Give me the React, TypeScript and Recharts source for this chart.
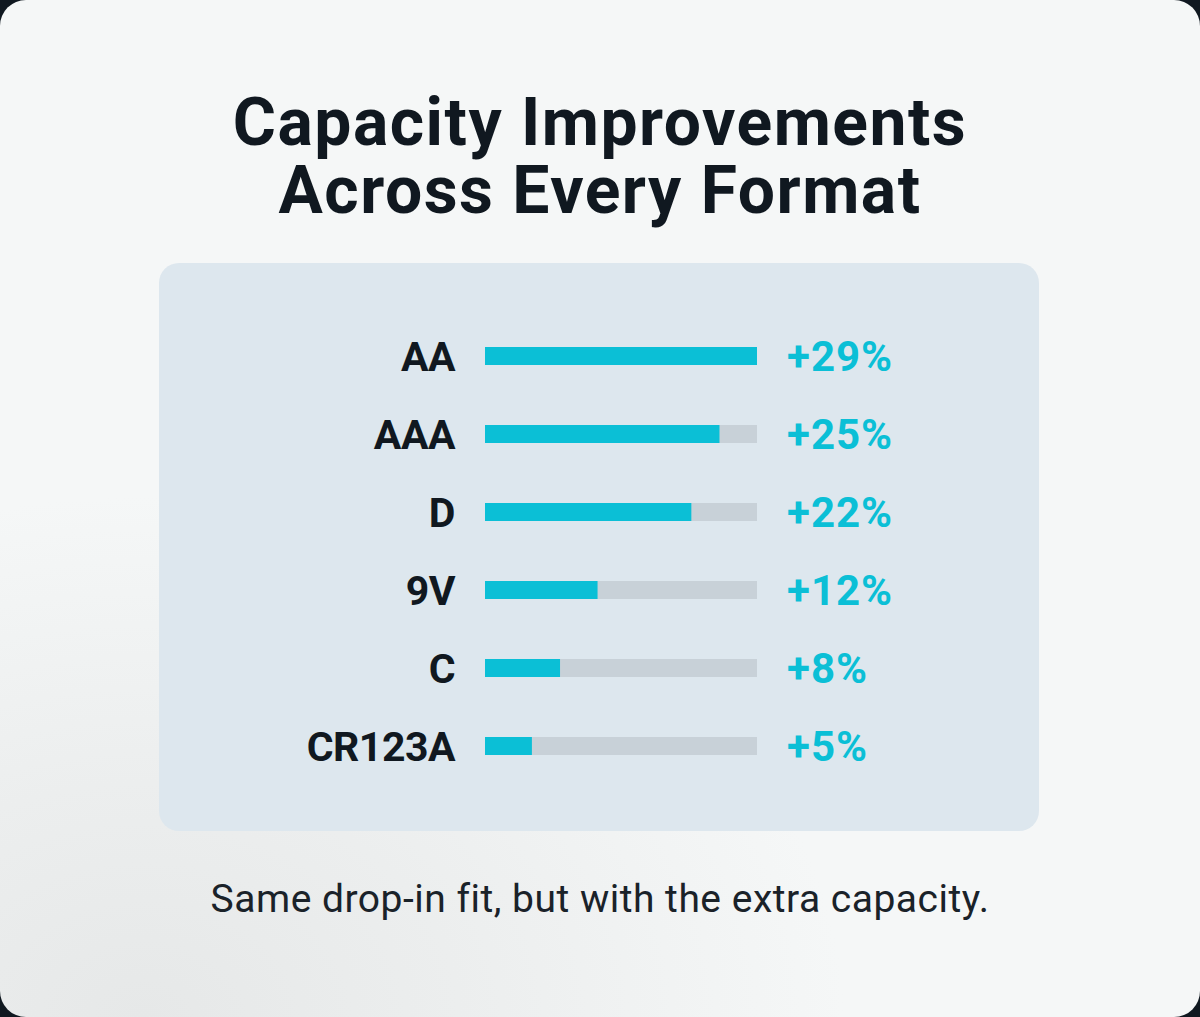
import React from 'react';
import { BarChart, Bar, XAxis, YAxis } from 'recharts';

const formats = ['AA', 'AAA', 'D', '9V', 'C', 'CR123A'];
const improvements = [29, 25, 22, 12, 8, 5];
const valueLabels = ['+29%', '+25%', '+22%', '+12%', '+8%', '+5%'];
const titleLines = ['Capacity Improvements', 'Across Every Format'];

const data = formats.map((name, i) => ({ name, value: improvements[i], label: valueLabels[i] }));

const FONT = 'Roboto, "Noto Sans", sans-serif';
const DARK = '#101820';
const CYAN = '#0bbfd6';

const LeftTick = (props: any) => {
  const { x, y, payload } = props;
  return (
    <text x={x} y={y} dy={15} textAnchor="end" fontFamily={FONT} fontWeight={700} fontSize={41} letterSpacing={-0.5} fill={DARK}>
      {payload.value}
    </text>
  );
};

const RightTick = (props: any) => {
  const { x, y, index } = props;
  return (
    <text x={x} y={y} dy={15} textAnchor="start" fontFamily={FONT} fontWeight={700} fontSize={42} letterSpacing={1} fill={CYAN}>
      {valueLabels[index]}
    </text>
  );
};

export default function App() {
  return (
    <div style={{ position: 'absolute', left: 0, top: 0, width: 1200, height: 1017, background: DARK, overflow: 'hidden' }}>
      <div
        style={{
          position: 'absolute',
          left: 0,
          top: 0,
          width: 1200,
          height: 1017,
          borderRadius: 26,
          background:
            'radial-gradient(ellipse 700px 520px at 12% 100%, #e6e8e8 0%, #eceeee 45%, rgba(245,247,247,0) 100%), #f5f7f7',
        }}
      />
      <svg width={1200} height={260} style={{ position: 'absolute', left: 0, top: 0 }}>
        <text textAnchor="middle" fontFamily={FONT} fontWeight={700} fontSize={66} letterSpacing={1.5} fill={DARK}>
          <tspan x={600} y={145}>{titleLines[0]}</tspan>
          <tspan x={600} y={213}>{titleLines[1]}</tspan>
        </text>
      </svg>
      <div
        style={{
          position: 'absolute',
          left: 159,
          top: 263,
          width: 880,
          height: 568,
          borderRadius: 20,
          background: '#dde7ee',
        }}
      >
        <BarChart
          width={880}
          height={568}
          data={data}
          layout="vertical"
          margin={{ top: 54, bottom: 46, left: 26, right: 32 }}
        >
          <XAxis type="number" domain={[0, 29]} hide />
          <YAxis
            yAxisId="left"
            type="category"
            dataKey="name"
            width={300}
            axisLine={false}
            tickLine={false}
            tickSize={0}
            tickMargin={30}
            tick={<LeftTick />}
            interval={0}
          />
          <YAxis
            yAxisId="right"
            orientation="right"
            type="category"
            dataKey="name"
            width={250}
            axisLine={false}
            tickLine={false}
            tickSize={0}
            tickMargin={30}
            tick={<RightTick />}
            interval={0}
          />
          <Bar
            yAxisId="left"
            dataKey="value"
            fill={CYAN}
            barSize={18}
            background={{ fill: '#c8d1d8' }}
            isAnimationActive={false}
          />
        </BarChart>
      </div>
      <svg width={1200} height={80} style={{ position: 'absolute', left: 0, top: 860 }}>
        <text x={600} y={52} textAnchor="middle" fontFamily={FONT} fontWeight={400} fontSize={39} letterSpacing={0.5} fill="#1a2229">
          Same drop-in fit, but with the extra capacity.
        </text>
      </svg>
    </div>
  );
}
